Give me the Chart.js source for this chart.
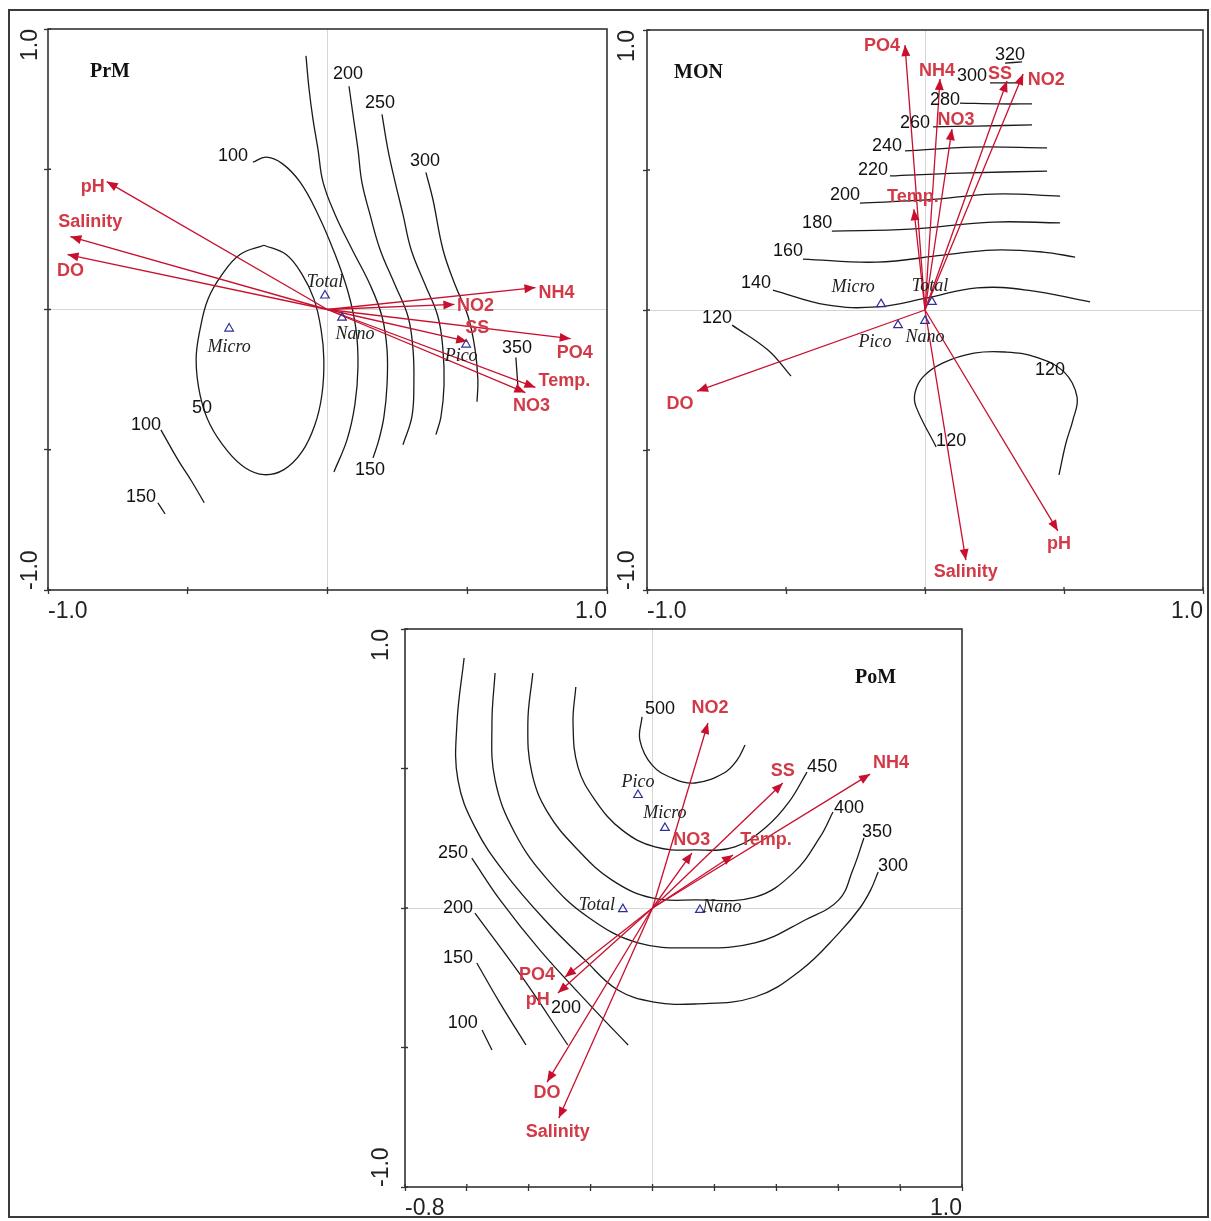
<!DOCTYPE html>
<html>
<head>
<meta charset="utf-8">
<script src="https://cdn.jsdelivr.net/npm/chart.js@4.4.1/dist/chart.umd.min.js"></script>
<style>
  html, body { margin:0; padding:0; background:#fff; width:1211px; height:1221px; overflow:hidden; }
  #frame { position:absolute; left:8px; top:9px; width:1201px; height:1209px; border:2px solid #3a3a3a; box-sizing:border-box; }
  canvas { position:absolute; }
</style>
</head>
<body>
<div id="frame"></div>
<canvas id="prm"></canvas>
<canvas id="mon"></canvas>
<canvas id="pom"></canvas>
<script>
// =================== DATA ===================
// ---- Panel PrM ----
const prmTitle = 'PrM';
const prmXTickVals = [-1, -0.5, 0, 0.5, 1];
const prmXTickText = ['-1.0', '', '', '', '1.0'];
const prmYTickVals = [-1, -0.5, 0, 0.5, 1];
const prmYTickText = ['-1.0', '', '', '', '1.0'];
const prmArrowNames = ['pH', 'Salinity', 'DO', 'NH4', 'NO2', 'SS', 'PO4', 'Temp.', 'NO3'];
const prmArrowX = [-0.79, -0.92, -0.93, 0.744, 0.454, 0.50, 0.87, 0.744, 0.708];
const prmArrowY = [0.456, 0.26, 0.196, 0.078, 0.018, -0.114, -0.104, -0.278, -0.296];
const prmSpecies = ['Total', 'Nano', 'Micro', 'Pico'];
const prmSpeciesX = [-0.009, 0.052, -0.352, 0.496];
const prmSpeciesY = [0.05, -0.029, -0.068, -0.125];
const prmC50 = [[-0.227,0.229],[-0.313,0.196],[-0.377,0.125],[-0.428,0.036],[-0.456,-0.071],[-0.470,-0.179],[-0.456,-0.304],[-0.420,-0.411],[-0.356,-0.507],[-0.295,-0.564],[-0.227,-0.589],[-0.156,-0.571],[-0.091,-0.507],[-0.045,-0.411],[-0.020,-0.304],[-0.013,-0.179],[-0.023,-0.071],[-0.048,0.036],[-0.091,0.125],[-0.148,0.196],[-0.227,0.229]];
const prmC100 = [[-0.267,0.525],[-0.220,0.543],[-0.163,0.521],[-0.098,0.454],[-0.034,0.339],[0.023,0.207],[0.073,0.064],[0.102,-0.071],[0.109,-0.204],[0.098,-0.339],[0.070,-0.464],[0.023,-0.579]];
const prmC150 = [[-0.077,0.904],[-0.066,0.786],[-0.052,0.679],[-0.034,0.571],[-0.016,0.454],[0.027,0.339],[0.088,0.214],[0.152,0.089],[0.195,-0.025],[0.213,-0.143],[0.213,-0.268],[0.202,-0.382],[0.184,-0.464],[0.163,-0.529]];
const prmC200 = [[0.077,0.796],[0.091,0.696],[0.109,0.571],[0.123,0.454],[0.152,0.339],[0.188,0.214],[0.241,0.089],[0.288,-0.025],[0.306,-0.143],[0.309,-0.268],[0.302,-0.382],[0.270,-0.482]];
const prmC250 = [[0.195,0.696],[0.216,0.571],[0.242,0.454],[0.270,0.339],[0.299,0.214],[0.349,0.089],[0.395,-0.025],[0.413,-0.143],[0.417,-0.268],[0.406,-0.382],[0.388,-0.446]];
const prmC300 = [[0.352,0.489],[0.377,0.393],[0.413,0.214],[0.456,0.089],[0.503,-0.025],[0.528,-0.143],[0.538,-0.25],[0.535,-0.329]];
const prmC350 = [[0.674,-0.171],[0.682,-0.286]];
const prmC100b = [[-0.596,-0.429],[-0.535,-0.536],[-0.485,-0.614],[-0.441,-0.689]];
const prmC150b = [[-0.607,-0.689],[-0.581,-0.729]];
const prmContourText = ['100', '200', '250', '300', '350', '50', '150', '100', '150'];
const prmContourTextX = [-0.338, 0.073, 0.188, 0.349, 0.678, -0.449, 0.152, -0.649, -0.667];
const prmContourTextY = [0.546, 0.839, 0.736, 0.529, -0.136, -0.35, -0.571, -0.411, -0.668];

// ---- Panel MON ----
const monTitle = 'MON';
const monXTickVals = [-1, -0.5, 0, 0.5, 1];
const monXTickText = ['-1.0', '', '', '', '1.0'];
const monYTickVals = [-1, -0.5, 0, 0.5, 1];
const monYTickText = ['-1.0', '', '', '', '1.0'];
const monArrowNames = ['PO4', 'NH4', 'SS', 'NO2', 'NO3', 'Temp.', 'DO', 'Salinity', 'pH'];
const monArrowX = [-0.072, 0.054, 0.295, 0.353, 0.097, -0.04, -0.82, 0.147, 0.478];
const monArrowY = [0.946, 0.825, 0.818, 0.843, 0.646, 0.36, -0.29, -0.893, -0.789];
const monSpecies = ['Micro', 'Total', 'Pico', 'Nano'];
const monSpeciesX = [-0.158, 0.025, -0.097, 0.0];
const monSpeciesY = [0.021, 0.029, -0.054, -0.039];
const monC320 = [[0.288,0.882],[0.349,0.886]];
const monC300 = [[0.234,0.811],[0.349,0.811]];
const monC280 = [[0.126,0.739],[0.27,0.736],[0.385,0.736]];
const monC260 = [[0.029,0.654],[0.187,0.657],[0.385,0.661]];
const monC240 = [[-0.072,0.568],[0.173,0.582],[0.439,0.579]];
const monC220 = [[-0.126,0.479],[0.126,0.489],[0.439,0.496]];
const monC200 = [[-0.234,0.382],[0.007,0.393],[0.245,0.414],[0.486,0.407]];
const monC180 = [[-0.335,0.282],[-0.054,0.289],[0.245,0.314],[0.486,0.311]];
const monC160 = [[-0.439,0.182],[-0.173,0.171],[0.065,0.196],[0.245,0.214],[0.424,0.207],[0.540,0.189]];
const monC140 = [[-0.547,0.071],[-0.353,0.018],[-0.173,0.011],[0.007,0.043],[0.187,0.079],[0.367,0.071],[0.594,0.029]];
const monC120a = [[-0.694,-0.054],[-0.565,-0.143],[-0.482,-0.236]];
const monC120b = [[0.040,-0.489],[-0.032,-0.346],[-0.036,-0.296],[-0.007,-0.239],[0.065,-0.189],[0.176,-0.154],[0.288,-0.15],[0.399,-0.168],[0.5,-0.221],[0.547,-0.311],[0.532,-0.393],[0.507,-0.475],[0.482,-0.589]];
const monContourText = ['320', '300', '280', '260', '240', '220', '200', '180', '160', '140', '120', '120', '120'];
const monContourTextX = [0.306, 0.169, 0.072, -0.036, -0.137, -0.187, -0.288, -0.388, -0.493, -0.608, -0.748, 0.45, 0.094];
const monContourTextY = [0.911, 0.836, 0.75, 0.668, 0.586, 0.5, 0.411, 0.311, 0.211, 0.096, -0.029, -0.214, -0.468];

// ---- Panel PoM ----
const pomTitle = 'PoM';
const pomXTickVals = [-0.8, -0.6, -0.4, -0.2, 0, 0.2, 0.4, 0.6, 0.8, 1.0];
const pomXTickText = ['-0.8', '', '', '', '', '', '', '', '', '1.0'];
const pomYTickVals = [-1, -0.5, 0, 0.5, 1];
const pomYTickText = ['-1.0', '', '', '', '1.0'];
const pomArrowNames = ['NO2', 'SS', 'NH4', 'NO3', 'Temp.', 'PO4', 'pH', 'DO', 'Salinity'];
const pomArrowX = [0.179, 0.421, 0.703, 0.127, 0.26, -0.283, -0.306, -0.341, -0.303];
const pomArrowY = [0.663, 0.448, 0.48, 0.197, 0.19, -0.247, -0.305, -0.624, -0.753];
const pomSpecies = ['Pico', 'Micro', 'Total', 'Nano'];
const pomSpeciesX = [-0.047, 0.04, -0.096, 0.153];
const pomSpeciesY = [0.405, 0.287, -0.004, -0.007];
const pomC500 = [[-0.034,0.685],[-0.041,0.602],[-0.002,0.513],[0.063,0.466],[0.137,0.448],[0.231,0.484],[0.273,0.530],[0.299,0.584]];
const pomC450 = [[-0.248,0.792],[-0.257,0.663],[-0.241,0.505],[-0.186,0.387],[-0.099,0.280],[0.008,0.219],[0.137,0.208],[0.266,0.219],[0.367,0.290],[0.441,0.380],[0.499,0.487]];
const pomC400 = [[-0.387,0.842],[-0.403,0.663],[-0.390,0.484],[-0.338,0.341],[-0.241,0.208],[-0.131,0.1],[-0.002,0.036],[0.137,0.029],[0.331,0.039],[0.454,0.125],[0.541,0.254],[0.583,0.344]];
const pomC350 = [[-0.509,0.842],[-0.519,0.663],[-0.509,0.459],[-0.445,0.269],[-0.338,0.1],[-0.209,-0.032],[-0.047,-0.125],[0.137,-0.143],[0.331,-0.125],[0.493,-0.043],[0.602,0.029],[0.647,0.136],[0.683,0.251]];
const pomC300 = [[-0.609,0.896],[-0.632,0.663],[-0.629,0.459],[-0.574,0.290],[-0.477,0.125],[-0.348,-0.043],[-0.219,-0.186],[-0.112,-0.294],[0.005,-0.337],[0.137,-0.344],[0.331,-0.319],[0.480,-0.222],[0.602,-0.090],[0.670,0.0],[0.705,0.065],[0.729,0.129]];
const pomC250 = [[-0.584,0.179],[-0.493,0.029],[-0.364,-0.151],[-0.202,-0.348],[-0.079,-0.491]];
const pomC200 = [[-0.574,-0.018],[-0.415,-0.258],[-0.274,-0.491]];
const pomC150 = [[-0.568,-0.197],[-0.493,-0.341],[-0.409,-0.491]];
const pomC100 = [[-0.551,-0.437],[-0.519,-0.509]];
const pomContourText = ['500', '450', '400', '350', '300', '250', '200', '150', '100', '200'];
const pomContourTextX = [0.024, 0.548, 0.635, 0.725, 0.777, -0.645, -0.629, -0.629, -0.613, -0.28];
const pomContourTextY = [0.713, 0.505, 0.358, 0.272, 0.151, 0.197, 0.0, -0.179, -0.412, -0.358];

// =================== LAYOUT / STYLE ===================
const RED = '#c8102e', RED_TEXT = '#d23a47', INK = '#1a1a1a', BLUE = '#30309a';
const PADL = 45, PADT = 12, PADR = 12, PADB = 40;
const HEAD_L = 11, HEAD_W = 4.5;
const TICK_IN = 3;

const panels = [
  { id:'prm', box:{l:48, t:29, r:607, b:590}, xMin:-1, xMax:1, yMin:-1, yMax:1, yLabOff:17,
    title:prmTitle, titleDX:42, titleDY:48,
    xTickVals:prmXTickVals, xTickText:prmXTickText, yTickVals:prmYTickVals, yTickText:prmYTickText,
    contours:[prmC50, prmC100, prmC150, prmC200, prmC250, prmC300, prmC350, prmC100b, prmC150b],
    cText:prmContourText, cX:prmContourTextX, cY:prmContourTextY,
    aNames:prmArrowNames, aX:prmArrowX, aY:prmArrowY,
    aDX:[-14, 20, 3, 21, 21, 10, 4, 29, 6], aDY:[5, -15, 17, 5, 2, -13, 14, -6, 14],
    sNames:prmSpecies, sX:prmSpeciesX, sY:prmSpeciesY,
    sDX:[0, 13, 0, -5], sDY:[-13, 17, 19, 12] },
  { id:'mon', box:{l:647, t:30, r:1203, b:590}, xMin:-1, xMax:1, yMin:-1, yMax:1, yLabOff:19,
    title:monTitle, titleDX:27, titleDY:48,
    xTickVals:monXTickVals, xTickText:monXTickText, yTickVals:monYTickVals, yTickText:monYTickText,
    contours:[monC320, monC300, monC280, monC260, monC240, monC220, monC200, monC180, monC160, monC140, monC120a, monC120b],
    cText:monContourText, cX:monContourTextX, cY:monContourTextY,
    aNames:monArrowNames, aX:monArrowX, aY:monArrowY,
    aDX:[-23, -3, -7, 23, 4, -1, -17, 0, 1], aDY:[1, -8, -7, 6, -9, -12, 13, 12, 13],
    sNames:monSpecies, sX:monSpeciesX, sY:monSpeciesY,
    sDX:[-28, -2, -23, 0], sDY:[-17, -16, 17, 16] },
  { id:'pom', box:{l:405, t:629, r:962, b:1187}, xMin:-0.8, xMax:1, yMin:-1, yMax:1, yLabOff:23,
    title:pomTitle, titleDX:450, titleDY:54,
    xTickVals:pomXTickVals, xTickText:pomXTickText, yTickVals:pomYTickVals, yTickText:pomYTickText,
    contours:[pomC500, pomC450, pomC400, pomC350, pomC300, pomC250, pomC200, pomC150, pomC100],
    cText:pomContourText, cX:pomContourTextX, cY:pomContourTextY,
    aNames:pomArrowNames, aX:pomArrowX, aY:pomArrowY,
    aDX:[2, 0, 21, 0, 33, -28, -20, 0, -1], aDY:[-15, -12, -11, -13, -15, -2, 7, 11, 14],
    sNames:pomSpecies, sX:pomSpeciesX, sY:pomSpeciesY,
    sDX:[0, 0, -26, 22], sDY:[-13, -15, -4, -3] }
];

const SANS = '"Liberation Sans", Arial, Helvetica, sans-serif';
const SERIF = '"Liberation Serif", "Times New Roman", serif';

function makePanel(p) {
  const canvas = document.getElementById(p.id);
  const W = p.box.r - p.box.l + PADL + PADR;
  const H = p.box.b - p.box.t + PADT + PADB;
  canvas.width = W; canvas.height = H;
  canvas.style.left = (p.box.l - PADL) + 'px';
  canvas.style.top = (p.box.t - PADT) + 'px';
  canvas.style.width = W + 'px';
  canvas.style.height = H + 'px';

  const datasets = [];
  datasets.push({
    data: p.sX.map((x, i) => ({ x: x, y: p.sY[i] })),
    showLine: false, pointStyle: 'triangle', pointRadius: 5, pointHoverRadius: 5,
    borderColor: BLUE, pointBorderColor: BLUE, borderWidth: 1.2, pointBorderWidth: 1.2,
    backgroundColor: 'rgba(0,0,0,0)', pointBackgroundColor: 'rgba(0,0,0,0)', order: 0
  });
  p.aX.forEach((ax, i) => datasets.push({
    data: [{ x: 0, y: 0 }, { x: ax, y: p.aY[i] }],
    showLine: true, borderColor: RED, borderWidth: 1.3, pointRadius: 0, pointHoverRadius: 0,
    tension: 0, fill: false, order: 1
  }));
  p.contours.forEach(c => datasets.push({
    data: c.map(q => ({ x: q[0], y: q[1] })),
    showLine: true, borderColor: INK, borderWidth: 1.3, pointRadius: 0, pointHoverRadius: 0,
    tension: 0.4, fill: false, order: 2
  }));

  const gridColor = c => (c.tick && Math.abs(c.tick.value) < 1e-9) ? '#d6d6d6' : 'rgba(0,0,0,0)';

  const decor = {
    id: 'biplotDecor',
    afterDatasetsDraw(chart) {
      const ctx = chart.ctx, xs = chart.scales.x, ys = chart.scales.y;
      const ox = xs.getPixelForValue(0), oy = ys.getPixelForValue(0);
      ctx.save();
      ctx.textAlign = 'center';
      ctx.textBaseline = 'middle';
      ctx.font = '18px ' + SANS;
      ctx.fillStyle = '#111';
      p.cText.forEach((t, i) => ctx.fillText(t, xs.getPixelForValue(p.cX[i]), ys.getPixelForValue(p.cY[i])));
      ctx.font = 'italic 18px ' + SERIF;
      ctx.fillStyle = '#222';
      p.sNames.forEach((t, i) => ctx.fillText(t, xs.getPixelForValue(p.sX[i]) + p.sDX[i], ys.getPixelForValue(p.sY[i]) + p.sDY[i]));
      p.aX.forEach((ax, i) => {
        const tx = xs.getPixelForValue(ax), ty = ys.getPixelForValue(p.aY[i]);
        const a = Math.atan2(ty - oy, tx - ox);
        const bx = tx - HEAD_L * Math.cos(a), by = ty - HEAD_L * Math.sin(a);
        ctx.beginPath();
        ctx.moveTo(tx, ty);
        ctx.lineTo(bx + HEAD_W * Math.sin(a), by - HEAD_W * Math.cos(a));
        ctx.lineTo(bx - HEAD_W * Math.sin(a), by + HEAD_W * Math.cos(a));
        ctx.closePath();
        ctx.fillStyle = RED;
        ctx.fill();
        ctx.font = 'bold 18px ' + SANS;
        ctx.fillStyle = RED_TEXT;
        ctx.fillText(p.aNames[i], tx + p.aDX[i], ty + p.aDY[i]);
      });
      ctx.restore();
    },
    afterDraw(chart) {
      const ctx = chart.ctx, ca = chart.chartArea, xs = chart.scales.x, ys = chart.scales.y;
      ctx.save();
      ctx.strokeStyle = '#333';
      ctx.lineWidth = 1.6;
      ctx.strokeRect(ca.left, ca.top, ca.right - ca.left, ca.bottom - ca.top);
      // inner part of the tick marks (ticks cross the axis line)
      ctx.lineWidth = 1.3;
      ctx.beginPath();
      p.xTickVals.forEach(v => { const px = xs.getPixelForValue(v); ctx.moveTo(px, ca.bottom); ctx.lineTo(px, ca.bottom - TICK_IN); });
      p.yTickVals.forEach(v => { const py = ys.getPixelForValue(v); ctx.moveTo(ca.left, py); ctx.lineTo(ca.left + TICK_IN, py); });
      ctx.stroke();
      // rotated y tick labels
      ctx.font = '23px ' + SANS;
      ctx.fillStyle = '#222';
      ctx.textBaseline = 'middle';
      p.yTickVals.forEach((v, i) => {
        const t = p.yTickText[i];
        if (!t) return;
        const py = ys.getPixelForValue(v);
        ctx.save();
        ctx.translate(ca.left - p.yLabOff, py);
        ctx.rotate(-Math.PI / 2);
        ctx.textAlign = (v >= p.yMax) ? 'right' : 'left';
        ctx.fillText(t, 0, 0);
        ctx.restore();
      });
      ctx.font = 'bold 20px ' + SERIF;
      ctx.fillStyle = '#111';
      ctx.textAlign = 'left';
      ctx.textBaseline = 'alphabetic';
      ctx.fillText(p.title, ca.left + p.titleDX, ca.top + p.titleDY);
      ctx.restore();
    }
  };

  return new Chart(canvas, {
    type: 'scatter',
    data: { datasets: datasets },
    options: {
      responsive: false,
      animation: false,
      devicePixelRatio: 1,
      events: [],
      layout: { padding: { left: 0, top: PADT, right: PADR, bottom: 0 } },
      plugins: { legend: { display: false }, tooltip: { enabled: false } },
      scales: {
        x: {
          type: 'linear', min: p.xMin, max: p.xMax,
          afterBuildTicks: s => { s.ticks = p.xTickVals.map(v => ({ value: v })); },
          afterFit: s => { s.height = PADB; },
          border: { display: false },
          grid: { color: gridColor, lineWidth: 1, tickColor: '#333', tickWidth: 1.3, tickLength: 4, drawTicks: true },
          ticks: {
            autoSkip: false, maxRotation: 0, minRotation: 0, align: 'inner', padding: 4,
            font: { family: SANS, size: 23 }, color: '#222',
            callback: v => {
              const i = p.xTickVals.findIndex(t => Math.abs(t - v) < 1e-9);
              return i >= 0 ? p.xTickText[i] : '';
            }
          }
        },
        y: {
          type: 'linear', min: p.yMin, max: p.yMax,
          afterBuildTicks: s => { s.ticks = p.yTickVals.map(v => ({ value: v })); },
          afterFit: s => { s.width = PADL; },
          border: { display: false },
          grid: { color: gridColor, lineWidth: 1, tickColor: '#333', tickWidth: 1.3, tickLength: 4, drawTicks: true },
          ticks: { display: false }
        }
      }
    },
    plugins: [decor]
  });
}

panels.forEach(makePanel);
</script>
</body>
</html>
